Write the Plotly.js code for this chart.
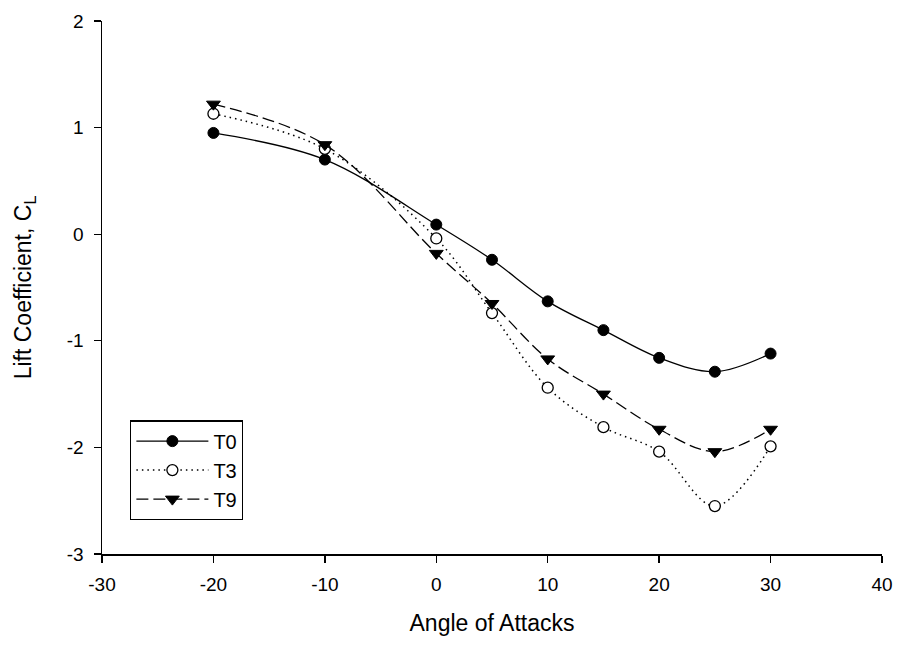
<!DOCTYPE html>
<html>
<head>
<meta charset="utf-8">
<script src="https://cdn.plot.ly/plotly-3.0.1.min.js"></script>
<style>
html,body{margin:0;padding:0;background:#fff;}
#chart{width:912px;height:649px;}
</style>
</head>
<body>
<div id="chart"></div>
<script>
const angles = [-20, -10, 0, 5, 10, 15, 20, 25, 30];
const T0 = [0.95, 0.70, 0.09, -0.24, -0.63, -0.90, -1.16, -1.29, -1.12];
const T3 = [1.13, 0.80, -0.04, -0.74, -1.44, -1.81, -2.04, -2.55, -1.99];
const T9 = [1.22, 0.84, -0.18, -0.65, -1.17, -1.50, -1.83, -2.04, -1.83];
const seriesNames = ['T0', 'T3', 'T9'];
const xTicks = [-30, -20, -10, 0, 10, 20, 30, 40];
const yTicks = [-3, -2, -1, 0, 1, 2];

const font = '"Liberation Sans", Arial, sans-serif';

const traces = [
  {x: angles, y: T0, name: seriesNames[0], mode: 'lines+markers',
   line: {shape: 'spline', smoothing: 1, color: '#000', width: 1.3, dash: 'solid'},
   marker: {symbol: 'circle', size: 11, color: '#000', line: {color: '#000', width: 1}}},
  {x: angles, y: T3, name: seriesNames[1], mode: 'lines+markers',
   line: {shape: 'spline', smoothing: 1, color: '#000', width: 1.5, dash: '1.5px,4px'},
   marker: {symbol: 'circle', size: 11, color: '#fff', line: {color: '#000', width: 1.3}}},
  {x: angles, y: T9, name: seriesNames[2], mode: 'lines+markers',
   line: {shape: 'spline', smoothing: 1, color: '#000', width: 1.3, dash: '12px,5px'},
   marker: {symbol: 'triangle-down', size: 12, color: '#000', line: {color: '#000', width: 1}}}
];

const layout = {
  width: 912, height: 649,
  margin: {l: 102, r: 30, t: 21, b: 95},
  paper_bgcolor: '#fff', plot_bgcolor: '#fff',
  font: {family: font, size: 19, color: '#000'},
  showlegend: true,
  legend: {
    x: 0.036, y: 0.157, xanchor: 'left', yanchor: 'middle',
    bgcolor: '#fff', bordercolor: '#000', borderwidth: 1.3,
    font: {family: font, size: 20, color: '#000'},
    itemwidth: 72, tracegroupgap: 0
  },
  xaxis: {
    range: [-30, 40], tickvals: xTicks, ticktext: xTicks.map(String),
    showgrid: false, zeroline: false, showline: true, linecolor: '#000', linewidth: 1.5,
    ticks: 'outside', ticklen: 7, tickwidth: 1.3, tickcolor: '#000', mirror: false,
    ticklabelstandoff: 6,
    tickfont: {family: font, size: 19, color: '#000'},
    title: {text: 'Angle of Attacks', font: {family: font, size: 23, color: '#000'}, standoff: 20}
  },
  yaxis: {
    range: [-3, 2], tickvals: yTicks, ticktext: yTicks.map(String),
    showgrid: false, zeroline: false, showline: true, linecolor: '#000', linewidth: 1.5,
    ticks: 'outside', ticklen: 7, tickwidth: 1.3, tickcolor: '#000', mirror: false,
    ticklabelstandoff: 6,
    tickfont: {family: font, size: 19, color: '#000'},
    title: {text: 'Lift Coefficient, C<sub>L</sub>', font: {family: font, size: 23, color: '#000'}, standoff: 28}
  }
};

Plotly.newPlot('chart', traces, layout, {displayModeBar: false, staticPlot: true});
</script>
</body>
</html>
